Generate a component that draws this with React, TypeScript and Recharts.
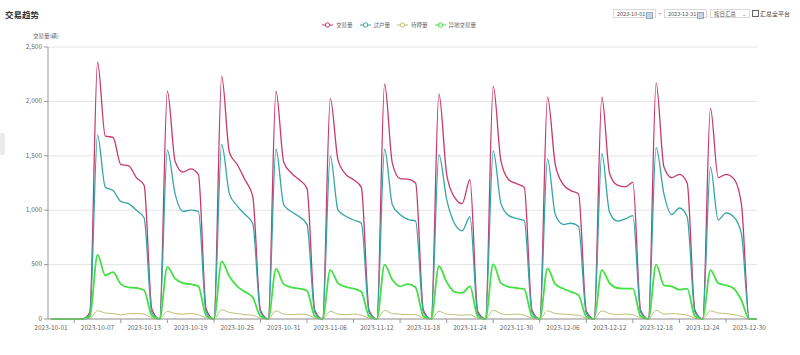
import React from 'react';
import { LineChart, Line, XAxis, YAxis, CartesianGrid } from 'recharts';

// Categories: every day from 2023-10-01 to 2023-12-31
const months: [number, number][] = [[10, 31], [11, 30], [12, 31]];
const dates: string[] = [];
months.forEach(([m, n]) => {
  for (let d = 1; d <= n; d++) dates.push(`2023-${m}-${d < 10 ? '0' + d : d}`);
});

const xTickLabels = [
  '2023-10-01', '2023-10-07', '2023-10-13', '2023-10-19', '2023-10-25', '2023-10-31',
  '2023-11-06', '2023-11-12', '2023-11-18', '2023-11-24', '2023-11-30', '2023-12-06',
  '2023-12-12', '2023-12-18', '2023-12-24', '2023-12-30',
];
const yTicks = [0, 500, 1000, 1500, 2000, 2500];

// 交易量
const tradeVolume = [
  0, 0, 0, 0, 0, 60, 2360, 1680, 1670, 1420, 1410, 1300, 1230, 90, 0,
  2095, 1450, 1350, 1380, 1330, 90, 0,
  2230, 1530, 1420, 1280, 1130, 80, 0,
  2095, 1440, 1340, 1280, 1200, 80, 0,
  2025, 1460, 1330, 1280, 1210, 80, 0,
  2160, 1430, 1290, 1285, 1250, 80, 0,
  2070, 1330, 1120, 1060, 1280, 70, 0,
  2140, 1450, 1280, 1245, 1210, 80, 0,
  2040, 1420, 1240, 1180, 1150, 70, 0,
  2040, 1340, 1230, 1215, 1255, 80, 0,
  2170, 1400, 1300, 1330, 1250, 80, 0,
  1935, 1300, 1330, 1290, 1050, 0, 0,
];
// 过户量
const transferVolume = [
  0, 0, 0, 0, 0, 40, 1690, 1210, 1180, 1080, 1060, 1000, 930, 60, 0,
  1550, 1150, 990, 1000, 990, 60, 0,
  1605, 1150, 1040, 960, 880, 60, 0,
  1560, 1050, 985, 940, 870, 60, 0,
  1500, 1000, 945, 910, 880, 60, 0,
  1560, 1050, 960, 915, 900, 60, 0,
  1510, 1100, 880, 810, 940, 50, 0,
  1545, 1060, 950, 925, 905, 60, 0,
  1470, 960, 870, 880, 850, 50, 0,
  1520, 980, 900, 920, 950, 60, 0,
  1575, 1150, 960, 1020, 940, 60, 0,
  1395, 910, 975, 940, 780, 0, 0,
];
// 待释量
const pendingVolume = [
  0, 0, 0, 0, 0, 5, 75, 55, 50, 38, 48, 50, 45, 10, 0,
  70, 50, 45, 50, 40, 10, 0,
  85, 60, 50, 40, 35, 8, 0,
  75, 45, 40, 45, 40, 8, 0,
  70, 45, 40, 45, 35, 8, 0,
  80, 50, 45, 40, 40, 8, 0,
  70, 45, 40, 35, 40, 8, 0,
  80, 50, 40, 45, 35, 8, 0,
  75, 50, 45, 40, 35, 8, 0,
  75, 50, 40, 45, 40, 8, 0,
  80, 45, 50, 45, 35, 8, 0,
  75, 55, 50, 40, 25, 0, 0,
];
// 异地交易量
const remoteVolume = [
  0, 0, 0, 0, 0, 20, 590, 400, 430, 320, 290, 285, 265, 30, 0,
  480, 370, 330, 320, 300, 30, 0,
  530, 390, 300, 250, 200, 25, 0,
  460, 320, 290, 280, 260, 25, 0,
  450, 330, 295, 280, 250, 25, 0,
  500, 360, 300, 320, 290, 25, 0,
  485, 340, 250, 240, 300, 25, 0,
  505, 330, 295, 285, 275, 25, 0,
  465, 320, 280, 250, 220, 20, 0,
  450, 330, 285, 280, 280, 25, 0,
  500, 310, 300, 270, 280, 25, 0,
  450, 330, 310, 280, 170, 0, 0,
];

const series = [
  { key: 'trade', name: '交易量', color: '#c8386c', width: 1.3, values: tradeVolume },
  { key: 'transfer', name: '过户量', color: '#37a4a7', width: 1.3, values: transferVolume },
  { key: 'pending', name: '待释量', color: '#bcbf74', width: 1, values: pendingVolume },
  { key: 'remote', name: '异地交易量', color: '#44e044', width: 1.8, values: remoteVolume },
];

const data = dates.map((d, i) => {
  const row: Record<string, any> = { date: d };
  series.forEach((s) => (row[s.key] = s.values[i]));
  return row;
});

const XTick = (props: any) => {
  const { x, y, payload } = props;
  const v = payload?.value;
  const i = dates.indexOf(v);
  if (xTickLabels.includes(v)) {
    return (
      <text x={x} y={y + 10.5} textAnchor="middle" fontSize={6.5} fill="#666">
        {v}
      </text>
    );
  }
  if (i % 6 === 3) {
    return <line x1={x} x2={x} y1={y} y2={y + 4} stroke="#999" strokeWidth={1} />;
  }
  return <g />;
};

const font = '"Noto Sans CJK SC", "Noto Sans", Roboto, sans-serif';

const box: React.CSSProperties = {
  position: 'absolute',
  top: 9,
  height: 9,
  border: '1px solid #d8d8d8',
  fontSize: 5.5,
  lineHeight: '8px',
  color: '#555',
  background: '#fff',
  boxSizing: 'border-box',
  paddingLeft: 3,
  whiteSpace: 'nowrap',
};

const CalIcon = () => (
  <span
    style={{
      position: 'absolute',
      right: 2,
      top: 1.5,
      width: 5,
      height: 5,
      background: '#c9d3e0',
      border: '0.5px solid #9aa8bb',
    }}
  />
);

export default function App() {
  return (
    <div style={{ position: 'fixed', left: 0, top: 0, width: 800, height: 355, fontFamily: font, background: '#fff', overflow: 'hidden' }}>
      <div style={{ position: 'absolute', left: 5, top: 8, fontSize: 8.5, fontWeight: 700, color: '#333', whiteSpace: 'nowrap' }}>交易趋势</div>
      <div style={{ position: 'absolute', left: 0, top: 133, width: 5, height: 22, background: '#ececec', borderRadius: '0 2px 2px 0' }} />
      <div style={{ position: 'absolute', left: 33, top: 32, fontSize: 5.5, color: '#666', whiteSpace: 'nowrap' }}>交易量(辆)</div>

      <div style={{ position: 'absolute', left: 322, top: 21, display: 'flex', alignItems: 'center', fontSize: 5.5, color: '#666', whiteSpace: 'nowrap' }}>
        {series.map((s) => (
          <div key={s.key} style={{ display: 'flex', alignItems: 'center', marginRight: 7 }}>
            <svg width={11} height={6} style={{ marginRight: 3 }}>
              <line x1={0} x2={11} y1={3} y2={3} stroke={s.color} strokeWidth={1} />
              <circle cx={5.5} cy={3} r={2.2} fill="#fff" stroke={s.color} strokeWidth={1} />
            </svg>
            <span>{s.name}</span>
          </div>
        ))}
      </div>

      <div style={{ ...box, left: 613, width: 43 }}>2023-10-01<CalIcon /></div>
      <div style={{ position: 'absolute', left: 658, top: 9, fontSize: 6, color: '#555', lineHeight: '9px' }}>~</div>
      <div style={{ ...box, left: 664, width: 43 }}>2023-12-31<CalIcon /></div>
      <div style={{ ...box, left: 710, width: 40 }}>
        按日汇总
        <span style={{ position: 'absolute', right: 3, top: 0, fontSize: 5 }}>⌄</span>
      </div>
      <div style={{ position: 'absolute', left: 752, top: 9, fontSize: 6, lineHeight: '9px', color: '#444', display: 'flex', alignItems: 'center', whiteSpace: 'nowrap' }}>
        <span style={{ display: 'inline-block', width: 5, height: 5, border: '0.8px solid #666', marginRight: 1 }} />
        汇总全平台
      </div>

      <div style={{ position: 'absolute', left: 0, top: 0 }}>
        <LineChart width={800} height={355} data={data} margin={{ top: 47, right: 43, bottom: 16, left: 0 }}>
          <CartesianGrid vertical={false} stroke="#e4e4e4" />
          <XAxis
            dataKey="date"
            interval={0}
            tickSize={0}
            tickMargin={0}
            tickLine={false}
            tick={<XTick />}
            axisLine={{ stroke: '#999' }}
            padding={{ left: 3, right: 0 }}
            height={20}
          />
          <YAxis
            width={48}
            domain={[0, 2500]}
            ticks={yTicks}
            tickSize={4}
            tickMargin={2}
            tickFormatter={(v: number) => v.toLocaleString('en-US')}
            tick={{ fontSize: 6.5, fill: '#666', dy: -0.5 }}
            tickLine={{ stroke: '#999' }}
            axisLine={{ stroke: '#999' }}
          />
          {series.map((s) => (
            <Line
              key={s.key}
              type="monotone"
              dataKey={s.key}
              name={s.name}
              stroke={s.color}
              strokeWidth={s.width}
              dot={false}
              activeDot={false}
              isAnimationActive={false}
            />
          ))}
        </LineChart>
      </div>
    </div>
  );
}
